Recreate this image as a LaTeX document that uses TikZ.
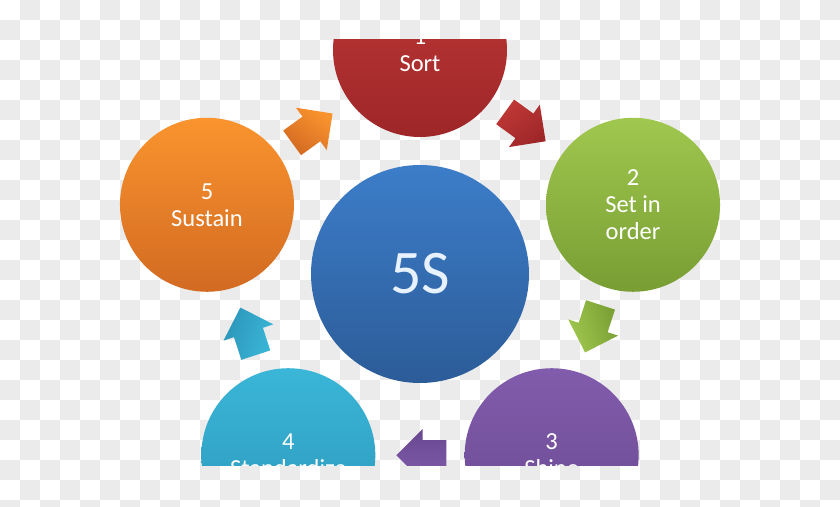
\documentclass[tikz,border=0pt]{standalone}
\usepackage{fontspec}
\setmainfont{Carlito}
\usetikzlibrary{shapes.arrows,calc}

\definecolor{checkgray}{RGB}{235,235,235}
\definecolor{sorttop}{RGB}{192,57,55}
\definecolor{sortbot}{RGB}{158,38,40}
\definecolor{ordertop}{RGB}{160,199,78}
\definecolor{orderbot}{RGB}{120,158,52}
\definecolor{shinetop}{RGB}{130,92,172}
\definecolor{shinebot}{RGB}{104,72,144}
\definecolor{stdtop}{RGB}{58,182,215}
\definecolor{stdbot}{RGB}{44,150,186}
\definecolor{sustaintop}{RGB}{250,148,46}
\definecolor{sustainbot}{RGB}{210,106,34}
\definecolor{hubtop}{RGB}{60,125,201}
\definecolor{hubbot}{RGB}{44,92,152}
\definecolor{hubtext}{RGB}{232,242,255}

\begin{document}
\begin{tikzpicture}[
    x=1pt, y=1pt,
    stage/.style={circle, minimum size=174pt, inner sep=0pt, text=white, align=center, font=\fontsize{24.5}{27}\selectfont},
    hub/.style={circle, minimum size=218pt, inner sep=0pt, top color=hubtop, bottom color=hubbot, text=hubtext, font=\fontsize{62}{70}\selectfont},
    flow/.style={single arrow, minimum height=50pt, single arrow head extend=11pt, inner xsep=0pt, inner ysep=15pt},
    aim/.style={rotate=#1, xshift=-9pt, shading angle=-#1},
    sortfill/.style={top color=sorttop, bottom color=sortbot},
    orderfill/.style={top color=ordertop, bottom color=orderbot},
    shinefill/.style={top color=shinetop, bottom color=shinebot},
    stdfill/.style={top color=stdtop, bottom color=stdbot},
    sustainfill/.style={top color=sustaintop, bottom color=sustainbot}
]
    % Canvas
    \useasboundingbox (-420,-232) rectangle (420,274);
    \clip (-420,-232) rectangle (420,274);

    % Checkerboard background
    \fill[white] (-420,-232) rectangle (420,274);
    \foreach \i in {0,...,41} \foreach \j in {0,...,25} {
        \pgfmathtruncatemacro{\odd}{mod(\i+\j,2)}
        \ifnum\odd=1 \fill[checkgray] (-420+20*\i,274-20*\j) rectangle ++(20,-20); \fi
    }

    \begin{scope}
    \clip (-420,234) rectangle (420,-191);

    % Centre
    \node[hub] (hub) at (0,0) {5S};

    % Stages
    \node[stage, sortfill] (sort) at (90:224) {1\\Sort};
    \node[stage, orderfill] (order) at (18:224) {2\\Set in\\order};
    \node[stage, shinefill] (shine) at (-54:224) {3\\Shine};
    \node[stage, stdfill] (standard) at (-126:224) {4\\Standardize};
    \node[stage, sustainfill] (sustain) at (162:224) {5\\Sustain};

    % Arrows between stages
    \node[flow, sortfill, aim=-36] (sorttoorder) at ($(sort)!0.5!(order)$) {};
    \node[flow, orderfill, aim=-108] (ordertoshine) at ($(order)!0.5!(shine)$) {};
    \node[flow, shinefill, aim=180] (shinetostd) at ($(shine)!0.5!(standard)$) {};
    \node[flow, stdfill, aim=108] (stdtosustain) at ($(standard)!0.5!(sustain)$) {};
    \node[flow, sustainfill, aim=36] (sustaintosort) at ($(sustain)!0.5!(sort)$) {};
    \end{scope}
\end{tikzpicture}
\end{document}
